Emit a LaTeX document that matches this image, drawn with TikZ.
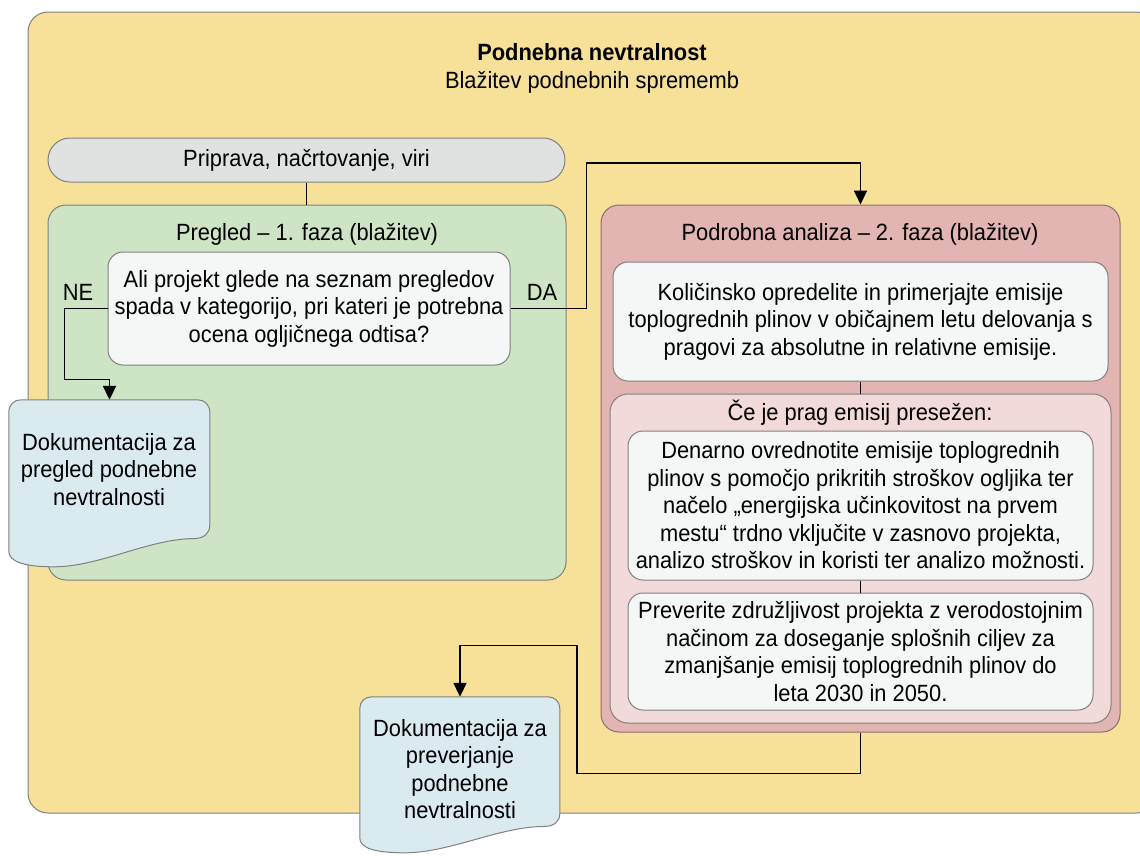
\documentclass[tikz,border=0pt]{standalone}
\usepackage{fontspec}
\setmainfont{Liberation Sans}[FakeStretch=0.93]
\usetikzlibrary{arrows.meta}

\definecolor{bgyellow}{RGB}{247,224,152}
\definecolor{prepgray}{RGB}{224,225,225}
\definecolor{greenfill}{RGB}{205,229,196}
\definecolor{redfill}{RGB}{226,180,178}
\definecolor{pinkfill}{RGB}{243,218,218}
\definecolor{whitefill}{RGB}{245,247,247}
\definecolor{docblue}{RGB}{218,235,240}
\definecolor{framegray}{RGB}{128,128,128}
\definecolor{redframe}{RGB}{140,110,110}

\begin{document}
\begin{tikzpicture}[x=1pt,y=-1pt,
  every node/.style={font=\fontsize{23.5}{27.5}\selectfont, text=black, inner sep=0pt, align=center},
  panel/.style={draw=framegray, line width=1pt, rounded corners=18pt},
  card/.style={draw=framegray, line width=1pt, fill=whitefill, rounded corners=15pt},
  docframe/.style={draw=none, inner sep=0pt},
  docfill/.style={draw=framegray, line width=1pt, fill=docblue},
  link/.style={draw=black, line width=1.8pt},
  arr/.style={link, -{Triangle[width=13pt,length=14pt]}},
  caption/.style={font=\fontsize{23.5}{27.5}\selectfont}
]
\useasboundingbox (0,0) rectangle (1140,855);

% background panel
\node[panel, fill=bgyellow, rounded corners=20pt, minimum width=1128, minimum height=801] (bg) at (592,412.5) {};
\node (title) at (592,52) {\bfseries Podnebna nevtralnost};
\node (subtitle) at (592,82) {Blažitev podnebnih sprememb};

% preparation bar
\node[panel, fill=prepgray, rounded corners=22pt, minimum width=517, minimum height=44] (prep) at (306.5,160) {Priprava, načrtovanje, viri};

% phase 1
\node[panel, fill=greenfill, minimum width=518, minimum height=375] (green) at (307,392.5) {};
\node (greentitle) at (307,234) {Pregled – 1. faza (blažitev)};
\node[card, minimum width=402, minimum height=113] (Q) at (309,308.5)
  {Ali projekt glede na seznam pregledov\\spada v kategorijo, pri kateri je potrebna\\ocena ogljičnega odtisa?};
\node (ne) at (78,292) {NE};
\node (da) at (542,292) {DA};

% phase 2
\node[panel, draw=redframe, fill=redfill, minimum width=519, minimum height=527] (red) at (860.5,468.5) {};
\node (redtitle) at (860,234) {Podrobna analiza – 2. faza (blažitev)};
\node[card, minimum width=495, minimum height=119] (B1) at (860.5,321.5)
  {Količinsko opredelite in primerjajte emisije\\toplogrednih plinov v običajnem letu delovanja s\\pragovi za absolutne in relativne emisije.};
\node[panel, fill=pinkfill, minimum width=501, minimum height=329] (pink) at (860.5,558.5) {};
\node (pinktitle) at (860,413) {Če je prag emisij presežen:};
\node[card, minimum width=465, minimum height=149] (B2) at (860.5,505.5)
  {Denarno ovrednotite emisije toplogrednih\\plinov s pomočjo prikritih stroškov ogljika ter\\načelo „energijska učinkovitost na prvem\\mestu“ trdno vključite v zasnovo projekta,\\analizo stroškov in koristi ter analizo možnosti.};
\node[card, minimum width=465, minimum height=117] (B3) at (860.5,651.5)
  {Preverite združljivost projekta z verodostojnim\\načinom za doseganje splošnih ciljev za\\zmanjšanje emisij toplogrednih plinov do\\leta 2030 in 2050.};

% document frames (outline drawn below)
\node[docframe, minimum width=201, minimum height=167] (docA) at (109.5,483.5) {};
\node[docframe, minimum width=200, minimum height=156] (docB) at (460,775) {};

% connectors
\draw[link] (prep.south) -- (prep.south |- green.north);
\draw[link] (B1.south) -- (pink.north);
\draw[link] (B2.south) -- (B3.north);
\draw[arr] (Q.west) -- ++(-43,0) -- ++(0,71) -| (docA.north);
\draw[arr] (Q.east) -- ++(76,0) -- ++(0,-145.5) -| (red.north);
\draw[arr] (red.south) -- ++(0,41) -- ++(-283.5,0) -- ++(0,-128) -| (docB.north);

% document shapes with wavy lower edge
\begin{scope}[shift={(docA.north west)}, xscale=1.005, yscale=1.04375]
  \filldraw[docfill] (0,12) .. controls (0,5) and (5,0) .. (12,0) -- (188,0)
    .. controls (195,0) and (200,5) .. (200,12) -- (200,120)
    .. controls (200,128) and (194,133) .. (184,133)
    .. controls (140,133) and (90,160) .. (45,160)
    .. controls (15,160) and (0,155) .. (0,145) -- cycle;
\end{scope}
\begin{scope}[shift={(docB.north west)}, xscale=1, yscale=0.975]
  \filldraw[docfill] (0,12) .. controls (0,5) and (5,0) .. (12,0) -- (188,0)
    .. controls (195,0) and (200,5) .. (200,12) -- (200,120)
    .. controls (200,128) and (194,133) .. (184,133)
    .. controls (140,133) and (90,160) .. (45,160)
    .. controls (15,160) and (0,155) .. (0,145) -- cycle;
\end{scope}
\node (docAtext) at (109,469.5) {Dokumentacija za\\pregled podnebne\\nevtralnosti};
\node (docBtext) at (460,769) {Dokumentacija za\\preverjanje\\podnebne\\nevtralnosti};
\end{tikzpicture}
\end{document}
